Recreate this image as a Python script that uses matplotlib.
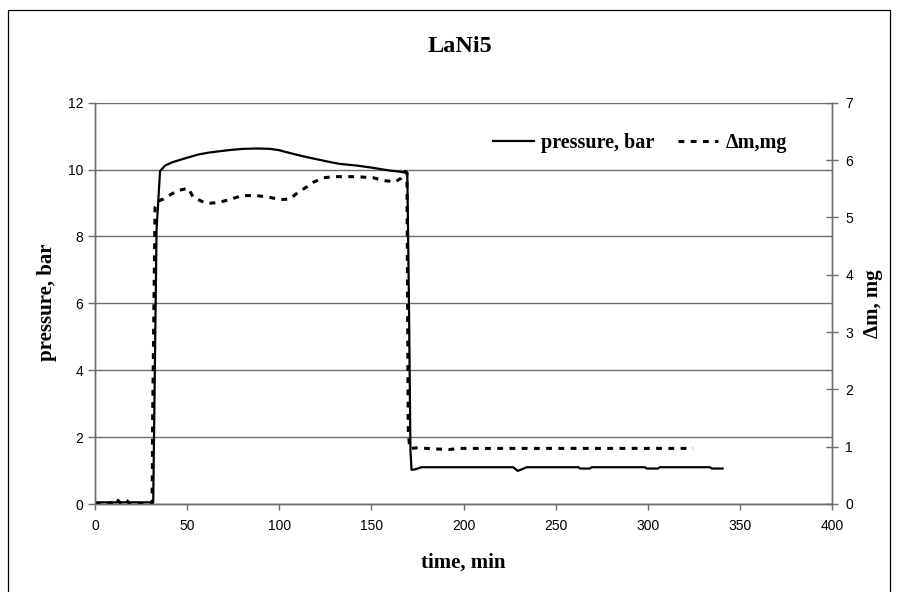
import matplotlib
matplotlib.use("Agg")
import matplotlib.pyplot as plt
from matplotlib.patches import Rectangle

# pressure, bar (left axis)
time_p = [0, 3, 6, 10, 15, 20, 25, 31.6, 33.4, 35.3, 38, 42, 47.9, 56, 62, 67.8, 74,
          80.5, 88, 95, 100, 104, 111.2, 116, 122, 128, 132.9, 142, 150, 160, 165,
          169.5, 170.4, 171.2, 171.8, 174, 177.2, 190, 210, 226.9, 229.5, 234.4,
          250, 262.3, 263.5, 268.5, 269.5, 285, 298.4, 299.5, 305.5, 306.6, 320,
          333.7, 334.8, 340.6]
pressure = [0.05, 0.05, 0.05, 0.05, 0.05, 0.05, 0.05, 0.05, 8.2, 9.95, 10.12, 10.22,
            10.32, 10.45, 10.51, 10.55, 10.59, 10.62, 10.63, 10.62, 10.58, 10.52,
            10.42, 10.36, 10.29, 10.22, 10.17, 10.12, 10.06, 9.97, 9.94, 9.9, 6.0,
            1.6, 1.02, 1.04, 1.1, 1.1, 1.1, 1.1, 0.99, 1.1, 1.1, 1.1, 1.06, 1.06,
            1.1, 1.1, 1.1, 1.06, 1.06, 1.1, 1.1, 1.1, 1.06, 1.06]

# delta m, mg (right axis)
time_m = [0, 3, 4.5, 6, 9, 11, 12.5, 14, 17, 18.5, 20, 25, 31.0, 31.3, 32.6, 34,
          37.1, 44.3, 50.6, 53.3, 60.6, 66.9, 73.2, 79.6, 86.8, 93.2, 100.4, 105.8,
          110.3, 114.9, 118.4, 123.9, 130.2, 142, 151, 157.3, 163, 166, 168.3,
          169.3, 170.0, 170.8, 175, 180, 185.4, 192, 198, 210, 250, 300, 324.6]
delta_m = [0.01, 0.01, 0.03, 0.01, 0.02, 0.09, 0.06, 0.01, 0.07, 0.02, 0.01, 0.01,
           0.01, 1.5, 5.18, 5.28, 5.32, 5.46, 5.51, 5.35, 5.24, 5.26, 5.31, 5.38,
           5.38, 5.36, 5.31, 5.32, 5.44, 5.53, 5.61, 5.69, 5.71, 5.71, 5.69, 5.64,
           5.62, 5.68, 5.8, 5.78, 1.3, 0.97, 0.98, 0.97, 0.96, 0.95, 0.97, 0.97,
           0.97, 0.97, 0.97]

serif = "Liberation Serif"
sans = "Liberation Sans"
axcol = "#6e6e6e"

fig = plt.figure(figsize=(8.98, 5.92), dpi=100)
fig.patches.append(Rectangle((8 / 898, -0.01), 882 / 898, 1 - 10 / 592 + 0.01,
                             transform=fig.transFigure, fill=False, lw=0.9,
                             edgecolor="black"))

ax = fig.add_axes([95 / 898, 1 - 504 / 592, 737 / 898, 401.3 / 592])
ax2 = ax.twinx()

l1, = ax.plot(time_p, pressure, color="black", lw=1.6, label="pressure, bar")
l2, = ax2.plot(time_m, delta_m, color="black", lw=2.2, dashes=(1.9, 2.1),
               label="Δm,mg")

ax.set_xlim(0, 400)
ax.set_ylim(0, 12)
ax2.set_ylim(0, 7)
ax.set_xticks(range(0, 401, 50))
ax.set_yticks(range(0, 13, 2))
ax2.set_yticks(range(0, 8))

ax.yaxis.grid(True, color=axcol, lw=1.0)
ax.set_axisbelow(True)

for a in (ax, ax2):
    a.spines["top"].set_visible(False)
    for s in ("left", "right", "bottom"):
        a.spines[s].set_color(axcol)
        a.spines[s].set_linewidth(1.0)

ax.tick_params(axis="y", direction="out", length=5, width=1, color=axcol, pad=3.5)
ax.tick_params(axis="x", direction="out", length=4.5, width=1, color=axcol, pad=6)
ax2.tick_params(axis="y", direction="inout", length=9, width=1, color=axcol, pad=5)
for lab in ax.get_xticklabels() + ax.get_yticklabels() + ax2.get_yticklabels():
    lab.set_fontfamily(sans)
    lab.set_fontsize(10)

ax.set_xlabel("time, min", fontfamily=serif, fontweight="bold", fontsize=15,
              va="center")
ax.xaxis.set_label_coords(0.5, (504 - 562.5) / -401.3 * -1)
ax.set_ylabel("pressure, bar", fontfamily=serif, fontweight="bold", fontsize=15,
              va="center")
ax.yaxis.set_label_coords((47 - 95) / 737, 0.502)
ax2.set_ylabel("Δm, mg", fontfamily=serif, fontweight="bold", fontsize=15,
               va="center", rotation=90)
ax2.yaxis.set_label_coords((873 - 95) / 737, 0.5)

fig.text(459.5 / 898, 1 - 46.7 / 592, "LaNi5", fontfamily=serif,
         fontweight="bold", fontsize=17.5, ha="center", va="center")

ax2.legend(handles=[l1, l2], loc="center right",
           bbox_to_anchor=((797 - 95) / 737, (504 - 143) / 401.3), ncol=2,
           frameon=False, borderpad=0, handlelength=2.0, handletextpad=0.35,
           columnspacing=1.2,
           prop={"family": serif, "weight": "bold", "size": 14.5})

fig.savefig("out.png", dpi=100)
